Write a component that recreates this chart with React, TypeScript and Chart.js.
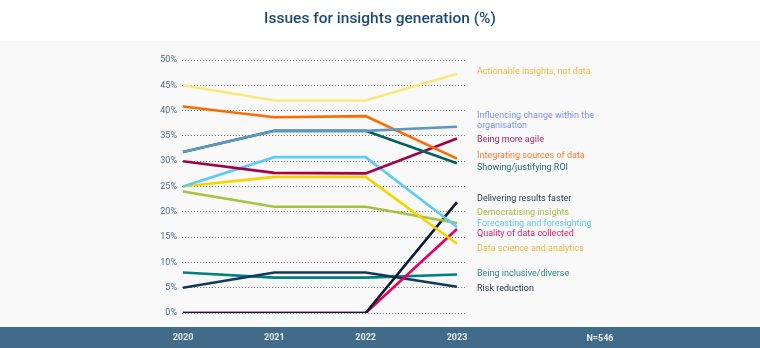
import React, { useEffect, useRef } from "react";
import { Chart, registerables } from "chart.js";

Chart.register(...registerables);

const years = ["2020", "2021", "2022", "2023"];
const yTicks = [0, 5, 10, 15, 20, 25, 30, 35, 40, 45, 50];

const seriesNames = [
  "Actionable insights, not data",
  "Influencing change within the|organisation",
  "Showing/justifying ROI",
  "Integrating sources of data",
  "Being more agile",
  "Forecasting and foresighting",
  "Data science and analytics",
  "Democratising insights",
  "Delivering results faster",
  "Quality of data collected",
  "Risk reduction",
  "Being inclusive/diverse",
];

const actionable = [45, 42, 42, 47.3];
const influencing = [31.8, 36, 36, 36.8];
const showingRoi = [31.8, 36, 36, 29.6];
const integrating = [40.8, 38.7, 38.9, 30.5];
const agile = [30, 27.7, 27.6, 34.5];
const forecasting = [25, 30.8, 30.8, 17];
const dataScience = [25, 26.9, 26.9, 13.7];
const democratising = [24, 21, 21, 17.8];
const delivering = [0, 0, 0, 21.9];
const quality = [0, 0, 0, 16.6];
const riskReduction = [5, 8, 8, 5.2];
const inclusive = [8, 7, 7, 7.6];

const seriesValues = [
  actionable, influencing, showingRoi, integrating, agile, forecasting,
  dataScience, democratising, delivering, quality, riskReduction, inclusive,
];

const lineColors = [
  "#fbe87c", "#5f97be", "#006260", "#ff6a00", "#a3004a", "#5ccbf7",
  "#f7d400", "#a3c43a", "#0c1b34", "#e6005c", "#13385f", "#008080",
];
const labelColors = [
  "#f6b83c", "#7b93e8", "#1f6b68", "#ff7a30", "#b3245c", "#5cc6f5",
  "#f8b63a", "#a6c040", "#2b3a4d", "#e0206a", "#25344a", "#2e8a88",
];
// label anchor in axis units (%)
const labelAnchor = [47.6, 38.9, 28.8, 31.0, 34.25, 17.6, 12.6, 19.8, 22.5, 15.6, 4.8, 7.8];

const FONT = "Roboto, 'Noto Sans', sans-serif";

export default function App() {
  const ref = useRef<HTMLCanvasElement | null>(null);

  useEffect(() => {
    document.body.style.margin = "0";
    const canvas = ref.current!;
    const decor = {
      id: "decor",
      beforeDraw(chart: any) {
        const c = chart.ctx;
        c.save();
        c.fillStyle = "#ffffff";
        c.fillRect(0, 0, 760, 41);
        c.fillStyle = "#f9f9f9";
        c.fillRect(0, 41, 760, 286);
        c.fillStyle = "#426b8a";
        c.fillRect(0, 327, 760, 21);
        c.restore();
      },
      afterDraw(chart: any) {
        const c = chart.ctx;
        const yScale = chart.scales.y;
        c.save();
        c.fillStyle = "#1c4a70";
        c.font = `500 15.5px ${FONT}`;
        c.textAlign = "center";
        c.textBaseline = "middle";
        c.fillText("Issues for insights generation (%)", 380, 19);
        c.fillStyle = "#e6edf2";
        c.font = `bold 9px ${FONT}`;
        c.fillText("N=546", 600, 339);
        c.textAlign = "left";
        c.font = `9px ${FONT}`;
        seriesNames.forEach((name, i) => {
          const lines = name.split("|");
          const y0 = yScale.getPixelForValue(labelAnchor[i]);
          c.fillStyle = labelColors[i];
          lines.forEach((ln, k) => c.fillText(ln, 477, y0 + k * 9.5));
        });
        c.restore();
      },
    };

    const chart = new Chart(canvas, {
      type: "line",
      data: {
        datasets: seriesValues.map((vals, i) => ({
          label: seriesNames[i],
          data: vals.map((v, k) => ({ x: k, y: v })),
          borderColor: lineColors[i],
          backgroundColor: lineColors[i],
          borderWidth: 2.6,
          pointRadius: 0,
          tension: 0,
          fill: false,
        })),
      },
      options: {
        responsive: false,
        animation: false,
        layout: { padding: { left: 142, right: 295, top: 60, bottom: 0 } },
        plugins: { legend: { display: false }, tooltip: { enabled: false }, title: { display: false } },
        scales: {
          x: {
            type: "linear",
            min: -0.011,
            max: 3.088,
            afterBuildTicks: (s: any) => { s.ticks = [0, 1, 2, 3].map((v) => ({ value: v })); },
            afterFit: (s: any) => { s.height = 35; },
            grid: { display: false, drawTicks: false },
            border: { display: false },
            ticks: {
              padding: 19,
              color: "#e6edf2",
              font: { family: FONT, size: 9, weight: "bold" },
              callback: (v: any) => years[v] ?? "",
            },
          },
          y: {
            min: 0,
            max: 50,
            afterBuildTicks: (s: any) => { s.ticks = yTicks.map((v) => ({ value: v })); },
            afterFit: (s: any) => { s.width = 40; },
            grid: { color: "#7a7a7a", lineWidth: 1, drawTicks: false },
            border: { display: false, dash: [1, 2] },
            ticks: {
              padding: 5,
              color: "#4f6b85",
              font: { family: FONT, size: 9 },
              callback: (v: any) => v + "%",
            },
          },
        },
      },
      plugins: [decor],
    } as any);
    return () => chart.destroy();
  }, []);

  return <canvas ref={ref} width={760} height={348} style={{ display: "block" }} />;
}
